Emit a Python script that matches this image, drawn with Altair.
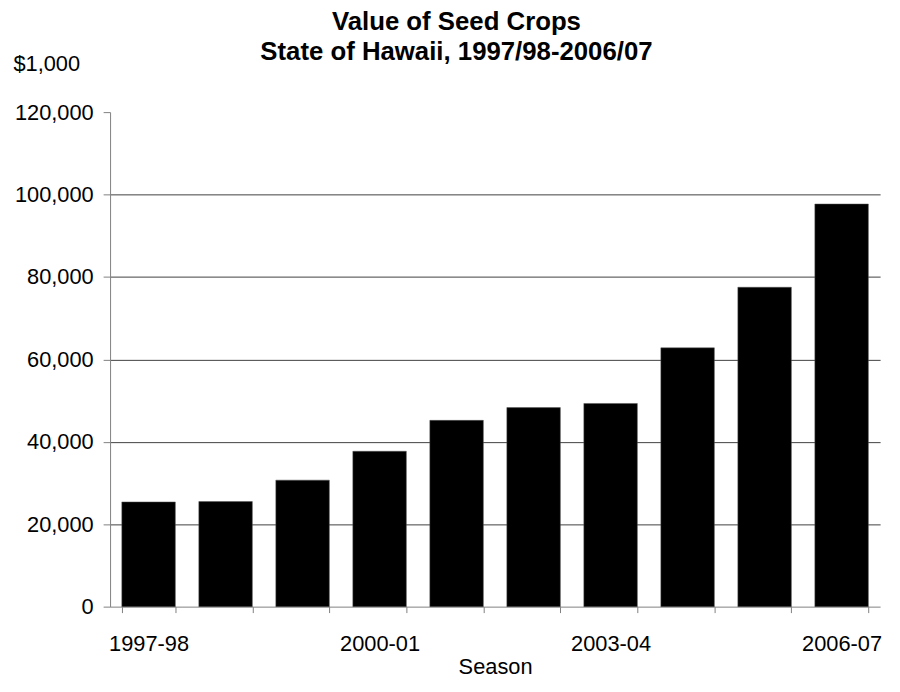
import altair as alt
import pandas as pd

seasons = ["1997-98", "1998-99", "1999-00", "2000-01", "2001-02",
           "2002-03", "2003-04", "2004-05", "2005-06", "2006-07"]
values = [25400, 25500, 30700, 37700, 45200, 48300, 49300, 62800, 77500, 97700]
shown_labels = ["1997-98", "2000-01", "2003-04", "2006-07"]
y_ticks = [0, 20000, 40000, 60000, 80000, 100000, 120000]

df = pd.DataFrame({"Season": seasons, "Value": values})

label_expr = "indexof(" + str(shown_labels) + ", datum.value) >= 0 ? datum.value : ''"

FONT = "Liberation Sans"

chart = alt.Chart(df).mark_bar(color="black", stroke="#555555", strokeWidth=0.5).encode(
    x=alt.X("Season:N", sort=seasons,
            scale=alt.Scale(paddingInner=0.305, paddingOuter=0.1525),
            axis=alt.Axis(title="Season", labelAngle=0, labelExpr=label_expr,
                          tickBand="extent", ticks=True, tickSize=6,
                          tickColor="#808080", domainColor="#808080",
                          labelFontSize=22, labelFont=FONT, labelColor="black",
                          labelPadding=21, titleFontSize=22, titleFont=FONT,
                          titleFontWeight="normal", titleColor="black",
                          titlePadding=2, grid=False)),
    y=alt.Y("Value:Q",
            scale=alt.Scale(domain=[0, 120000], nice=False),
            axis=alt.Axis(title="$1,000", values=y_ticks, format=",d",
                          tickSize=7, tickColor="#808080", domainColor="#808080",
                          labelFontSize=22, labelFont=FONT, labelColor="black",
                          labelPadding=10,
                          grid=True, gridColor="#404040", gridWidth=1,
                          gridOpacity={"condition": {"test": "datum.value == 0 || datum.value == 120000", "value": 0}, "value": 1},
                          titleAngle=0, titleAlign="left", titleBaseline="middle",
                          titleX=-98, titleY=-49, titleFontSize=22,
                          titleFont=FONT, titleFontWeight="normal",
                          titleColor="black")),
).properties(
    width=777,
    height=499,
    autosize=alt.AutoSizeParams(type="none"),
    padding={"left": 103, "top": 102, "right": 12, "bottom": 75},
    title=alt.TitleParams(
        text=["Value of Seed Crops", "State of Hawaii, 1997/98-2006/07"],
        fontSize=26, font=FONT, fontWeight="bold", color="black",
        anchor="middle", frame="group", dx=-39, offset=-12, lineHeight=30),
).configure_view(stroke=None)

chart.save("out.html", embed_options={"renderer": "svg", "actions": False})
